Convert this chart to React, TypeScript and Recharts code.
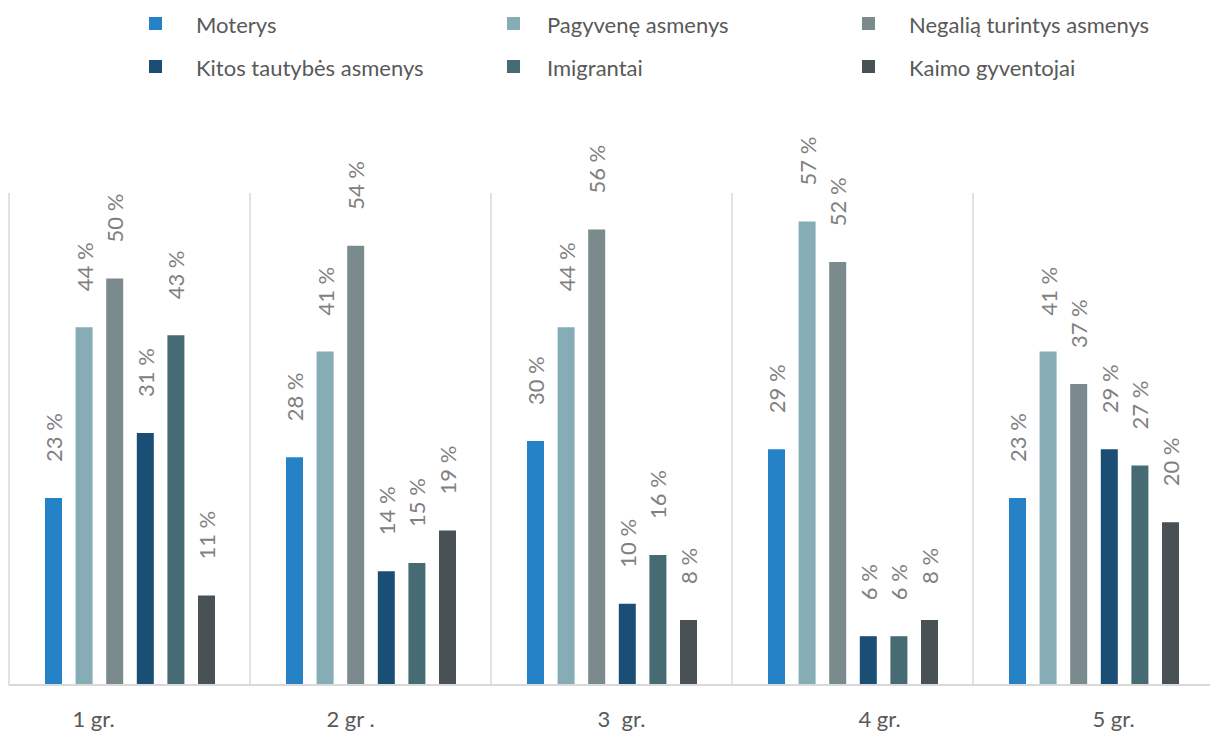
import React from 'react';
import { Bar, BarChart, CartesianGrid, LabelList, XAxis, YAxis } from 'recharts';

document.body.style.margin = '0';

const CATEGORIES = ['1 gr.', '2 gr .', '3  gr.', '4 gr.', '5 gr.'];

const SERIES_NAMES = [
  'Moterys',
  'Pagyvenę asmenys',
  'Negalią turintys asmenys',
  'Kitos tautybės asmenys',
  'Imigrantai',
  'Kaimo gyventojai',
];

const MOTERYS = [23, 28, 30, 29, 23];
const PAGYVENE = [44, 41, 44, 57, 41];
const NEGALIA = [50, 54, 56, 52, 37];
const KITOS = [31, 14, 10, 6, 29];
const IMIGRANTAI = [43, 15, 16, 6, 27];
const KAIMO = [11, 19, 8, 8, 20];

const SERIES_VALUES = [MOTERYS, PAGYVENE, NEGALIA, KITOS, IMIGRANTAI, KAIMO];

const COLORS = ['#2682C6', '#86ACB5', '#7A8A8D', '#1A4E74', '#466B73', '#485254'];

const FONT = 'Lato, "Open Sans", sans-serif';
const GRID = '#D9D9D9';

// legend columns: marker left / text left
const LEGEND_COLS = [
  { marker: 149, text: 196 },
  { marker: 507, text: 547 },
  { marker: 862, text: 909 },
];
const LEGEND_ROWS = [24, 67];

// nudges for the category labels (they sit off-centre in the original)
const TICK_NUDGE = [-36, -20, 10, 27, 20];

const data = CATEGORIES.map((name, i) => {
  const row: Record<string, string | number> = { name };
  SERIES_NAMES.forEach((s, j) => {
    row[s] = SERIES_VALUES[j][i];
  });
  return row;
});

function PercentLabel(props: any) {
  const { x, y, width, value } = props;
  const cx = x + width / 2;
  const top = y - 36;
  return (
    <text
      x={cx}
      y={top}
      transform={`rotate(-90 ${cx} ${top})`}
      textAnchor="start"
      dominantBaseline="central"
      fill="#808080"
      fontSize={22}
      fontFamily={FONT}
      style={{ whiteSpace: 'pre' }}
    >
      {`${value} %`}
    </text>
  );
}

function CategoryTick(props: any) {
  const { x, y, payload, index } = props;
  return (
    <text
      x={x + (TICK_NUDGE[index] ?? 0)}
      y={y + 34}
      textAnchor="middle"
      fill="#595959"
      fontSize={22}
      fontFamily={FONT}
      style={{ whiteSpace: 'pre' }}
    >
      {payload.value}
    </text>
  );
}

function Legend() {
  return (
    <>
      {SERIES_NAMES.map((name, i) => {
        const col = LEGEND_COLS[i % 3];
        const rowY = LEGEND_ROWS[Math.floor(i / 3)];
        return (
          <React.Fragment key={name}>
            <div
              style={{
                position: 'absolute',
                left: col.marker,
                top: rowY - 7,
                width: 13,
                height: 13,
                background: COLORS[i],
              }}
            />
            <div
              style={{
                position: 'absolute',
                left: col.text,
                top: rowY - 13,
                fontFamily: FONT,
                fontSize: 22,
                lineHeight: '28px',
                color: '#595959',
                whiteSpace: 'nowrap',
              }}
            >
              {name}
            </div>
          </React.Fragment>
        );
      })}
    </>
  );
}

export default function App() {
  return (
    <div style={{ position: 'relative', width: 1210, height: 735, background: '#fff', overflow: 'hidden' }}>
      <Legend />
      <BarChart
        width={1210}
        height={735}
        data={data}
        margin={{ top: 193, right: -4, left: 9, bottom: 10 }}
        barGap={13.6}
        barSize={17}
      >
        <CartesianGrid
          horizontal={false}
          stroke={GRID}
          strokeWidth={1.5}
          verticalCoordinatesGenerator={({ offset }: any) =>
            CATEGORIES.map((_, i) => offset.left + (i * offset.width) / CATEGORIES.length).concat(
              offset.left + offset.width,
            )
          }
        />
        <XAxis
          dataKey="name"
          height={40}
          axisLine={{ stroke: GRID, strokeWidth: 2 }}
          tickLine={false}
          tick={<CategoryTick />}
          interval={0}
        />
        <YAxis hide domain={[0, 60.5]} allowDataOverflow />
        {SERIES_NAMES.map((name, i) => (
          <Bar key={name} dataKey={name} fill={COLORS[i]} isAnimationActive={false}>
            <LabelList dataKey={name} content={<PercentLabel />} />
          </Bar>
        ))}
      </BarChart>
    </div>
  );
}
